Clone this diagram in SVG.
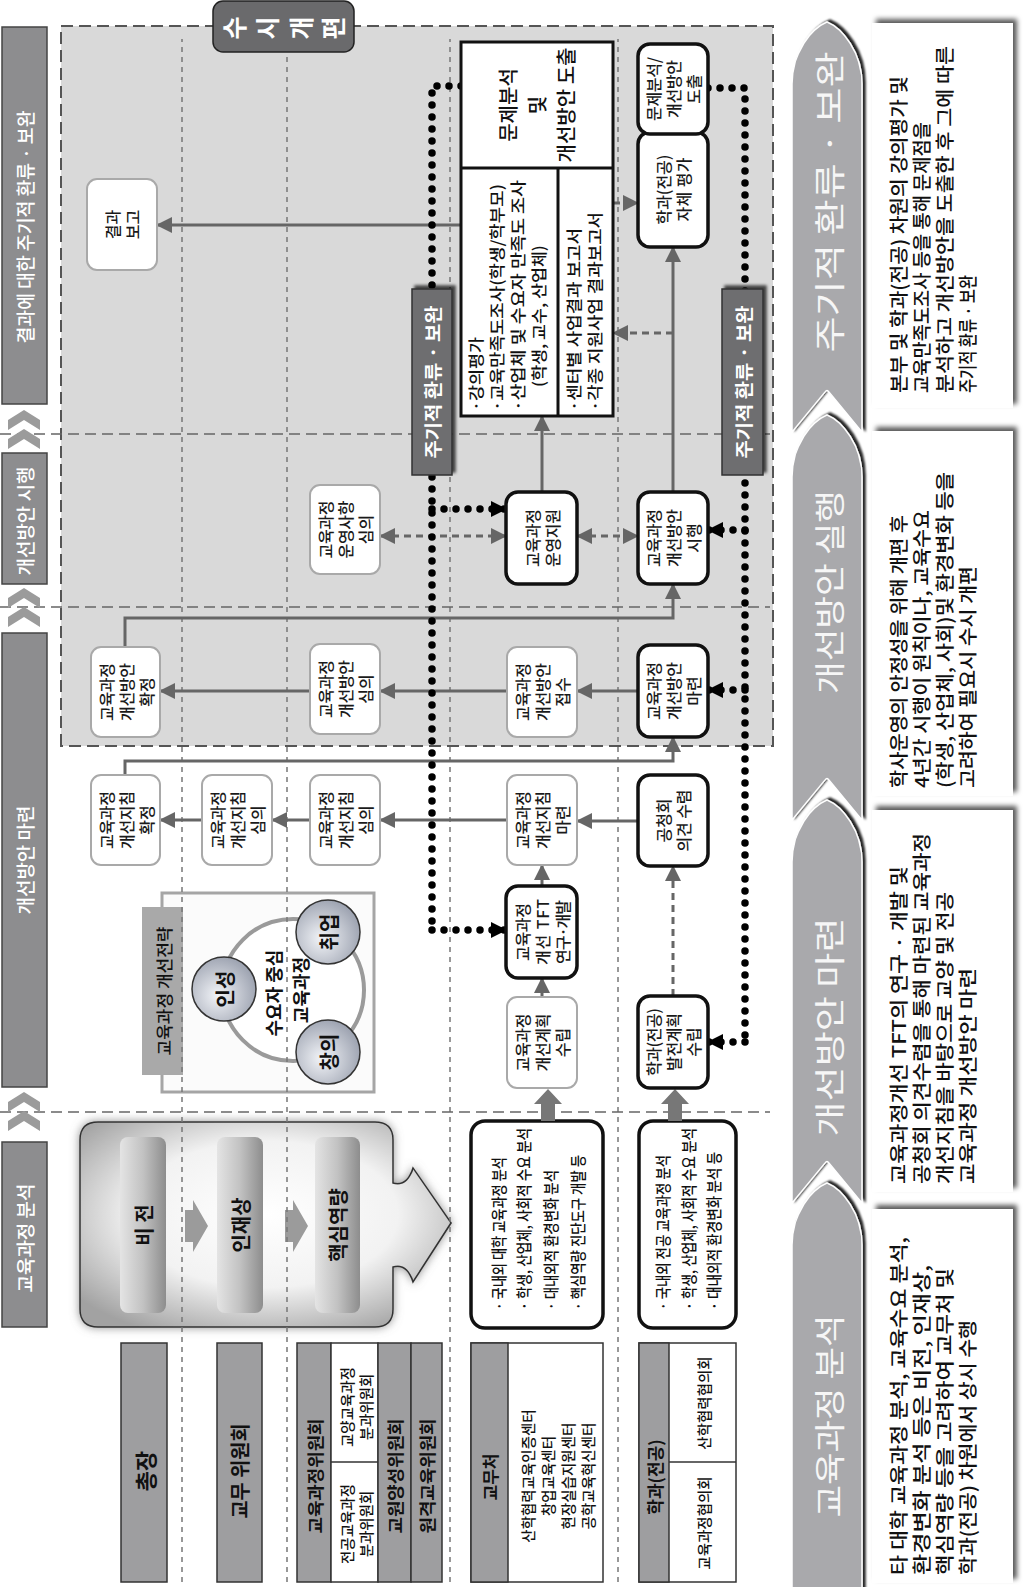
<svg xmlns="http://www.w3.org/2000/svg" width="1024" height="1587" viewBox="0 0 1024 1587">
<defs>
<style>
text{font-family:'Noto Sans CJK KR','Noto Sans',sans-serif;}
.c{text-anchor:middle;dominant-baseline:central;}
.s{text-anchor:start;dominant-baseline:central;}
.n{font-size:16px;font-weight:500;fill:#1a1a1a;}
.lb{fill:#fff;stroke:#a9a9a9;stroke-width:2;}
.bb{fill:#fff;stroke:#111;stroke-width:3.5;}
.org{fill:#9e9ea0;stroke:#333;stroke-width:1.5;}
.orgw{fill:#fff;stroke:#333;stroke-width:1.5;}
.ph{fill:#8d8d8f;stroke:#444;stroke-width:1.5;}
.pht{font-size:19px;font-weight:500;fill:#fff;}
.ob{font-size:17px;font-weight:bold;fill:#111;}
.ow{font-size:14.5px;font-weight:500;fill:#111;}
.lane{stroke:#777;stroke-width:1.5;stroke-dasharray:5 5;fill:none;}
.phl{stroke:#666;stroke-width:1.5;stroke-dasharray:11 6;fill:none;}
.arr{fill:none;stroke:#666;stroke-width:3;marker-end:url(#ga);}
.da{fill:none;stroke:#666;stroke-width:3;stroke-dasharray:7 5;marker-end:url(#ga);}
.da2{fill:none;stroke:#666;stroke-width:3;stroke-dasharray:7 5;marker-end:url(#ga);marker-start:url(#ga);}
.dot{fill:none;stroke:#000;stroke-width:7.5;stroke-linecap:round;stroke-dasharray:0 12;}
.dota{fill:none;stroke:#000;stroke-width:7.5;stroke-linecap:round;stroke-dasharray:0 12;marker-end:url(#ba);}
.ds{font-size:19px;font-weight:500;fill:#111;}
.chv{fill:#a9a9ac;stroke:#fff;stroke-width:1.5;filter:url(#csh);}
.cht{font-size:31px;fill:#f6f6f6;}
.fb{fill:#6e6e70;stroke:#333;stroke-width:1.5;filter:url(#sh);}
.fbt{font-size:18px;font-weight:bold;fill:#fff;}
.pill{fill:url(#pg);}
.pt{font-size:20px;font-weight:bold;fill:#111;}
.an{font-size:16px;font-weight:500;fill:#111;}
.bt{font-size:16px;font-weight:500;fill:#111;}
.sc{fill:url(#cg);stroke:#333;stroke-width:1.5;}
.sct{font-size:20px;font-weight:bold;fill:#111;}
.gry{fill:#9b9b9b;}
</style>
<marker id="ga" markerUnits="userSpaceOnUse" markerWidth="16" markerHeight="16" refX="15" refY="8" orient="auto-start-reverse"><path d="M0,0 L16,8 L0,16 Z" fill="#666"/></marker>
<marker id="ba" markerUnits="userSpaceOnUse" markerWidth="16" markerHeight="16" refX="15" refY="8" orient="auto"><path d="M0,0 L16,8 L0,16 Z" fill="#000"/></marker>
<filter id="sh" x="-10%" y="-10%" width="130%" height="130%"><feDropShadow dx="3" dy="3" stdDeviation="1.5" flood-color="#000" flood-opacity="0.7"/></filter>
<filter id="csh" x="-10%" y="-20%" width="130%" height="150%"><feDropShadow dx="2" dy="3" stdDeviation="1.2" flood-color="#000" flood-opacity="0.85"/></filter>
<filter id="glow" x="-10%" y="-10%" width="120%" height="120%"><feDropShadow dx="0" dy="0" stdDeviation="5" flood-color="#777" flood-opacity="0.8"/></filter>
<filter id="bsh" x="-5%" y="-10%" width="115%" height="130%"><feDropShadow dx="4" dy="4" stdDeviation="2.5" flood-color="#000" flood-opacity="0.65"/></filter>
<radialGradient id="bg" cx="0.55" cy="0.5" r="0.65"><stop offset="0" stop-color="#ffffff"/><stop offset="0.55" stop-color="#f2f2f2"/><stop offset="1" stop-color="#a2a2a2"/></radialGradient>
<linearGradient id="pg" x1="0" y1="0" x2="0" y2="1"><stop offset="0" stop-color="#e4e4e4"/><stop offset="0.5" stop-color="#c2c2c2"/><stop offset="1" stop-color="#8d8d8d"/></linearGradient>
<radialGradient id="cg" cx="0.4" cy="0.4" r="0.65"><stop offset="0" stop-color="#f2f4f8"/><stop offset="1" stop-color="#9aa0ae"/></radialGradient>
</defs>
<rect width="1024" height="1587" fill="#fff"/>
<g transform="translate(0,1587) rotate(-90)">

<g id="region">
<rect x="841" y="61" width="720" height="712" fill="#d9d9d9" stroke="#555" stroke-width="2" stroke-dasharray="12 6"/>
</g>

<g id="phase1-shape">
<path d="M278,80 H447 Q465,80 465,98 V375 Q465,393 447,393 H404 Q400,407 419,413 L364,451 L305,413 Q324,407 320,393 H278 Q260,393 260,375 V98 Q260,80 278,80 Z" fill="url(#bg)" stroke="#333" stroke-width="1.5" filter="url(#glow)"/>
<rect class="pill" x="274" y="120" width="176" height="46" rx="8"/>
<rect class="pill" x="274" y="217" width="176" height="46" rx="8"/>
<rect class="pill" x="274" y="315" width="176" height="45" rx="8"/>
<polygon class="gry" points="345,185 377,185 377,193 387,193 361,208 335,193 345,193"/>
<polygon class="gry" points="345,285 377,285 377,293 387,293 361,308 335,293 345,293"/>
<text class="c pt" x="362" y="143">비 전</text>
<text class="c pt" x="362" y="240">인재상</text>
<text class="c pt" x="362" y="337.5">핵심역량</text>
</g>

<g id="strategy">
<rect x="495" y="162" width="199" height="212" fill="#fbfbfb" stroke="#a5a5a5" stroke-width="3"/>
<rect x="512" y="142" width="168" height="41" fill="#a9a9a9"/>
<text class="c" x="596" y="163" font-size="17" font-weight="500" fill="#111">교육과정 개선전략</text>
<circle cx="597" cy="293" r="71" fill="#fff" stroke="#9a9a9a" stroke-width="4"/>
</g>

<g id="grid">
<path class="lane" d="M5,182 H1548 M5,287 H1548 M5,450 H1548 M5,618 H1548"/>
<path class="phl" d="M475,0 V770 M980,0 V770 M1153,0 V770"/>
</g>

<g id="strategy-circles">
<text class="c" x="594" y="273" font-size="18" font-weight="bold" fill="#111">수요자 중심</text>
<text class="c" x="597" y="300" font-size="18" font-weight="bold" fill="#111">교육과정</text>
<circle class="sc" cx="598" cy="224" r="32"/><text class="c sct" x="598" y="224">인성</text>
<circle class="sc" cx="655" cy="328" r="32"/><text class="c sct" x="655" y="328">취업</text>
<circle class="sc" cx="535" cy="328" r="32"/><text class="c sct" x="535" y="328">창의</text>
</g>

<g id="phase-labels">
<rect class="ph" x="260" y="2" width="185" height="45"/><text class="c pht" x="349" y="24.5">교육과정 분석</text>
<rect class="ph" x="500" y="2" width="454" height="45"/><text class="c pht" x="727" y="24.5">개선방안 마련</text>
<rect class="ph" x="1003" y="2" width="131" height="45"/><text class="c pht" x="1066" y="24.5">개선방안 시행</text>
<rect class="ph" x="1183" y="2" width="377" height="45"/><text class="c pht" x="1360" y="24.5" textLength="233" lengthAdjust="spacingAndGlyphs">결과에 대한 주기적 환류 · 보완</text>
<g class="gry">
<polygon points="456,8 466,8 476,24 466,40 456,40 466,24"/><polygon points="475,8 485,8 495,24 485,40 475,40 485,24"/>
<polygon points="960,8 970,8 980,24 970,40 960,40 970,24"/><polygon points="979,8 989,8 999,24 989,40 979,40 989,24"/>
<polygon points="1138,8 1148,8 1158,24 1148,40 1138,40 1148,24"/><polygon points="1157,8 1167,8 1177,24 1167,40 1157,40 1167,24"/>
</g>
</g>

<g id="org-president"><rect class="org" x="5" y="121" width="239" height="46"/><text class="c" x="116" y="144" font-size="22" font-weight="bold" fill="#111">총장</text></g>
<g id="org-council"><rect class="org" x="5" y="217" width="239" height="45"/><text class="c" x="116" y="239.5" font-size="20" font-weight="bold" fill="#111" textLength="95" lengthAdjust="spacingAndGlyphs">교무 위원회</text></g>
<g id="org-committees">
<rect class="org" x="5" y="297" width="239" height="34"/><text class="c ob" x="111" y="314" textLength="115" lengthAdjust="spacingAndGlyphs">교육과정위원회</text>
<rect class="orgw" x="5" y="331" width="239" height="47"/><line x1="125" y1="331" x2="125" y2="378" stroke="#333" stroke-width="1.5"/>
<text class="c ow" x="180" y="346">교양교육과정</text><text class="c ow" x="180" y="365">분과위원회</text>
<text class="c ow" x="63" y="346">전공교육과정</text><text class="c ow" x="63" y="365">분과위원회</text>
<rect class="org" x="5" y="378" width="239" height="33"/><text class="c ob" x="111" y="394.5" textLength="115" lengthAdjust="spacingAndGlyphs">교원양성위원회</text>
<rect class="org" x="5" y="411" width="239" height="31"/><text class="c ob" x="111" y="426.5" textLength="115" lengthAdjust="spacingAndGlyphs">원격교육위원회</text>
</g>
<g id="org-academic">
<rect class="orgw" x="5" y="471" width="239" height="132"/><rect class="org" x="5" y="471" width="239" height="37"/>
<text class="c ob" x="110" y="489.5" font-size="18">교무처</text>
<text class="c ow" x="111" y="527">산학협력교육인증센터</text>
<text class="c ow" x="111" y="547">창업교육센터</text>
<text class="c ow" x="111" y="567">현장실습지원센터</text>
<text class="c ow" x="111" y="587">공학교육혁신센터</text>
</g>
<g id="org-dept">
<rect class="orgw" x="5" y="639" width="239" height="97"/><rect class="org" x="5" y="639" width="239" height="30"/>
<line x1="125" y1="669" x2="125" y2="736" stroke="#333" stroke-width="1.5"/>
<text class="c ob" x="110" y="654" font-size="18">학과(전공)</text>
<text class="c ow" x="184" y="703">산학협력협의회</text>
<text class="c ow" x="64" y="703">교육과정협의회</text>
</g>

<g id="analysis-academic">
<rect class="bb" x="259" y="471" width="207" height="132" rx="14"/>
<text class="s an" x="277" y="498" textLength="153" lengthAdjust="spacingAndGlyphs">· 국내외 대학 교육과정 분석</text>
<text class="s an" x="277" y="523" textLength="182" lengthAdjust="spacingAndGlyphs">· 학생, 산업체, 사회적 수요 분석</text>
<text class="s an" x="277" y="550" textLength="140" lengthAdjust="spacingAndGlyphs">· 대내외적 환경변화 분석</text>
<text class="s an" x="277" y="577" textLength="155" lengthAdjust="spacingAndGlyphs">· 핵심역량 진단도구 개발 등</text>
</g>
<g id="analysis-dept">
<rect class="bb" x="259" y="639" width="207" height="97" rx="14"/>
<text class="s an" x="277" y="662" textLength="155" lengthAdjust="spacingAndGlyphs">· 국내외 전공 교육과정 분석</text>
<text class="s an" x="277" y="688" textLength="182" lengthAdjust="spacingAndGlyphs">· 학생, 산업체, 사회적 수요 분석</text>
<text class="s an" x="277" y="713" textLength="158" lengthAdjust="spacingAndGlyphs">· 대내외적 환경변화 분석 등</text>
</g>

<g id="connectors">
<polygon fill="#777" points="466,541 483,541 483,534 498,548 483,562 483,555 466,555"/>
<polygon fill="#777" points="466,668 483,668 483,661 498,675 483,689 483,682 466,682"/>
<path class="arr" d="M767,310 V272"/>
<path class="arr" d="M767,202 V160"/>
<path class="arr" d="M767,507 V380"/>
<path class="arr" d="M766,638 V577"/>
<path class="arr" d="M896,638 V577"/>
<path class="arr" d="M896,507 V380"/>
<path class="arr" d="M896,310 V160"/>
<path class="arr" d="M701,542 H722"/>
<path class="arr" d="M590,542 H609"/>
<path class="arr" d="M812,125 H826 V673 H850"/>
<path class="arr" d="M940,125 H969 V673 H1003"/>
<path class="arr" d="M1095,542 H1171"/>
<path class="arr" d="M1095,673 H1340"/>
<path class="arr" d="M1362,461 V157"/>
<path class="da" d="M591,673 H721"/>
<path class="da" d="M1384,613 V638"/>
<path class="da" d="M1254,673 V613"/>
<path class="da2" d="M1051,380 V506"/>
<path class="da2" d="M1051,577 V638"/>
<path class="dot" d="M1501,461 V432 H657"/>
<path class="dota" d="M657,432 V506"/>
<path class="dota" d="M1078,432 V506"/>
<path class="dot" d="M1499,708 V745 H545"/>
<path class="dota" d="M545,745 V708"/>
<path class="dota" d="M897,745 V708"/>
<path class="dota" d="M1057,745 V708"/>
</g>

<g id="n-guide-confirm"><rect class="lb" x="722" y="91" width="90" height="69" rx="10"/><text class="c n" x="767" y="105.5" textLength="58">교육과정</text><text class="c n" x="767" y="125.5" textLength="58">개선지침</text><text class="c n" x="767" y="145.5">확정</text></g>
<g id="n-guide-review1"><rect class="lb" x="722" y="202" width="90" height="70" rx="10"/><text class="c n" x="767" y="217" textLength="58">교육과정</text><text class="c n" x="767" y="237" textLength="58">개선지침</text><text class="c n" x="767" y="257">심의</text></g>
<g id="n-guide-review2"><rect class="lb" x="722" y="310" width="90" height="70" rx="10"/><text class="c n" x="767" y="325" textLength="58">교육과정</text><text class="c n" x="767" y="345" textLength="58">개선지침</text><text class="c n" x="767" y="365">심의</text></g>
<g id="n-guide-prepare"><rect class="lb" x="722" y="507" width="90" height="70" rx="10"/><text class="c n" x="767" y="522" textLength="58">교육과정</text><text class="c n" x="767" y="542" textLength="58">개선지침</text><text class="c n" x="767" y="562">마련</text></g>
<g id="n-hearing"><rect class="bb" x="721" y="638" width="91" height="70" rx="12"/><text class="c n" x="766.5" y="663">공청회</text><text class="c n" x="766.5" y="683" textLength="62">의견 수렴</text></g>
<g id="n-tft"><rect class="bb" x="609" y="506" width="92" height="71" rx="12"/><text class="c n" x="655" y="521.5" textLength="58">교육과정</text><text class="c n" x="655" y="541.5" textLength="66">개선 TFT</text><text class="c n" x="655" y="561.5" textLength="64">연구·개발</text></g>
<g id="n-plan"><rect class="lb" x="499" y="507" width="91" height="70" rx="10"/><text class="c n" x="544.5" y="522" textLength="58">교육과정</text><text class="c n" x="544.5" y="542" textLength="58">개선계획</text><text class="c n" x="544.5" y="562">수립</text></g>
<g id="n-dept-plan"><rect class="bb" x="499" y="638" width="92" height="70" rx="12"/><text class="c n" x="545" y="653" textLength="68">학과(전공)</text><text class="c n" x="545" y="673" textLength="58">발전계획</text><text class="c n" x="545" y="693">수립</text></g>
<g id="n-imp-confirm"><rect class="lb" x="850" y="91" width="90" height="69" rx="10"/><text class="c n" x="895" y="105.5" textLength="58">교육과정</text><text class="c n" x="895" y="125.5" textLength="58">개선방안</text><text class="c n" x="895" y="145.5">확정</text></g>
<g id="n-imp-review"><rect class="lb" x="853" y="310" width="90" height="70" rx="10"/><text class="c n" x="898" y="325" textLength="58">교육과정</text><text class="c n" x="898" y="345" textLength="58">개선방안</text><text class="c n" x="898" y="365">심의</text></g>
<g id="n-imp-receive"><rect class="lb" x="850" y="507" width="90" height="70" rx="10"/><text class="c n" x="895" y="522" textLength="58">교육과정</text><text class="c n" x="895" y="542" textLength="58">개선방안</text><text class="c n" x="895" y="562">접수</text></g>
<g id="n-imp-prepare"><rect class="bb" x="850" y="638" width="92" height="70" rx="12"/><text class="c n" x="896" y="653" textLength="58">교육과정</text><text class="c n" x="896" y="673" textLength="58">개선방안</text><text class="c n" x="896" y="693">마련</text></g>
<g id="n-op-review"><rect class="lb" x="1013" y="310" width="89" height="70" rx="10"/><text class="c n" x="1057.5" y="325" textLength="58">교육과정</text><text class="c n" x="1057.5" y="345" textLength="58">운영사항</text><text class="c n" x="1057.5" y="365">심의</text></g>
<g id="n-op-support"><rect class="bb" x="1003" y="506" width="92" height="71" rx="12"/><text class="c n" x="1049" y="531.5" textLength="58">교육과정</text><text class="c n" x="1049" y="551.5" textLength="58">운영지원</text></g>
<g id="n-imp-run"><rect class="bb" x="1003" y="638" width="92" height="70" rx="12"/><text class="c n" x="1049" y="653" textLength="58">교육과정</text><text class="c n" x="1049" y="673" textLength="58">개선방안</text><text class="c n" x="1049" y="693">시행</text></g>
<g id="n-report"><rect class="lb" x="1317" y="87" width="91" height="70" rx="10"/><text class="c n" x="1362.5" y="112">결과</text><text class="c n" x="1362.5" y="132">보고</text></g>
<g id="n-self-eval"><rect class="bb" x="1340" y="638" width="115" height="70" rx="12"/><text class="c n" x="1397.5" y="663" textLength="70">학과(전공)</text><text class="c n" x="1397.5" y="683" textLength="64">자체 평가</text></g>
<g id="n-dept-analysis"><rect class="bb" x="1453" y="638" width="90" height="70" rx="12"/><text class="c n" x="1498" y="653" textLength="64">문제분석/</text><text class="c n" x="1498" y="673" textLength="58">개선방안</text><text class="c n" x="1498" y="693">도출</text></g>

<g id="n-analysis-box">
<rect x="1171" y="461" width="374" height="152" fill="#fff" stroke="#111" stroke-width="3"/>
<line x1="1419" y1="461" x2="1419" y2="613" stroke="#111" stroke-width="3"/>
<line x1="1171" y1="558" x2="1419" y2="558" stroke="#111" stroke-width="3"/>
<text class="c" x="1482" y="507" font-size="20" font-weight="500" fill="#111">문제분석</text>
<text class="c" x="1482" y="536" font-size="20" font-weight="500" fill="#111">및</text>
<text class="c" x="1482" y="565" font-size="20" font-weight="500" fill="#111">개선방안 도출</text>
<text class="s bt" x="1176" y="475" textLength="74" lengthAdjust="spacingAndGlyphs">·강의평가</text>
<text class="s bt" x="1176" y="496" textLength="227" lengthAdjust="spacingAndGlyphs">·교육만족도조사(학생/학부모)</text>
<text class="s bt" x="1176" y="517" textLength="231" lengthAdjust="spacingAndGlyphs">·산업체 및 수요자 만족도 조사</text>
<text class="s bt" x="1200" y="538" textLength="142" lengthAdjust="spacingAndGlyphs">(학생, 교수, 산업체)</text>
<text class="s bt" x="1176" y="573" textLength="183" lengthAdjust="spacingAndGlyphs">·센터별 사업결과 보고서</text>
<text class="s bt" x="1176" y="594" textLength="199" lengthAdjust="spacingAndGlyphs">·각종 지원사업 결과보고서</text>
</g>

<g id="feedback-labels">
<rect class="fb" x="1112" y="412" width="186" height="40"/><text class="c fbt" x="1205" y="432" textLength="153" lengthAdjust="spacingAndGlyphs">주기적 환류 · 보완</text>
<rect class="fb" x="1112" y="722" width="186" height="41"/><text class="c fbt" x="1205" y="742.5" textLength="153" lengthAdjust="spacingAndGlyphs">주기적 환류 · 보완</text>
</g>

<g id="label-adhoc">
<rect x="1535" y="213" width="51" height="141" rx="10" fill="#6a6a6c" stroke="#222" stroke-width="1.5"/>
<text class="c" x="1559" y="233" font-size="25" font-weight="bold" fill="#fff">수</text>
<text class="c" x="1559" y="266" font-size="25" font-weight="bold" fill="#fff">시</text>
<text class="c" x="1559" y="300" font-size="25" font-weight="bold" fill="#fff">개</text>
<text class="c" x="1559" y="332" font-size="25" font-weight="bold" fill="#fff">편</text>
</g>

<g id="stage-analysis">
<path class="chv" d="M-60,792 L342,792 C374,792 398,812 404,827 C398,842 374,862 342,862 L-60,862 Z"/>
<text class="c cht" x="171" y="827" textLength="203" lengthAdjust="spacingAndGlyphs">교육과정 분석</text>
<rect x="4" y="872" width="374" height="141" fill="#fff" filter="url(#bsh)"/>
<text class="s ds" x="12" y="897" textLength="338" lengthAdjust="spacingAndGlyphs">타 대학 교육과정 분석, 교육수요 분석,</text>
<text class="s ds" x="12" y="920" textLength="310" lengthAdjust="spacingAndGlyphs">환경변화 분석 등은 비전, 인재상,</text>
<text class="s ds" x="12" y="943" textLength="307" lengthAdjust="spacingAndGlyphs">핵심역량 등을 고려하여 교무처 및</text>
<text class="s ds" x="12" y="966" textLength="255" lengthAdjust="spacingAndGlyphs">학과(전공) 차원에서 상시 수행</text>
</g>
<g id="stage-prepare">
<path class="chv" d="M384,792 L725,792 C757,792 781,812 787,827 C781,842 757,862 725,862 L384,862 L424,829 Q427,827 424,825 Z"/>
<text class="c cht" x="560" y="827" textLength="219" lengthAdjust="spacingAndGlyphs">개선방안 마련</text>
<rect x="395" y="872" width="382" height="141" fill="#fff" filter="url(#bsh)"/>
<text class="s ds" x="403" y="897" textLength="318" lengthAdjust="spacingAndGlyphs">교육과정개선 TFT의 연구 · 개발 및</text>
<text class="s ds" x="403" y="920" textLength="351" lengthAdjust="spacingAndGlyphs">공청회 의견수렴을 통해 마련된 교육과정</text>
<text class="s ds" x="403" y="943" textLength="292" lengthAdjust="spacingAndGlyphs">개선지침을 바탕으로 교양 및 전공</text>
<text class="s ds" x="403" y="966" textLength="216" lengthAdjust="spacingAndGlyphs">교육과정 개선방안 마련</text>
</g>
<g id="stage-run">
<path class="chv" d="M767,792 L1110,792 C1142,792 1166,812 1172,827 C1166,842 1142,862 1110,862 L767,862 L807,829 Q810,827 807,825 Z"/>
<text class="c cht" x="995" y="827" textLength="204" lengthAdjust="spacingAndGlyphs">개선방안 실행</text>
<rect x="791" y="872" width="365" height="141" fill="#fff" filter="url(#bsh)"/>
<text class="s ds" x="799" y="897" textLength="273" lengthAdjust="spacingAndGlyphs">학사운영의 안정성을 위해 개편 후</text>
<text class="s ds" x="799" y="920" textLength="278" lengthAdjust="spacingAndGlyphs">4년간 시행이 원칙이나, 교육수요</text>
<text class="s ds" x="799" y="943" textLength="316" lengthAdjust="spacingAndGlyphs">(학생, 산업체, 사회)및 환경변화 등을</text>
<text class="s ds" x="799" y="966" textLength="222" lengthAdjust="spacingAndGlyphs">고려하여 필요시 수시 개편</text>
</g>
<g id="stage-feedback">
<path class="chv" d="M1155,792 L1503,792 C1535,792 1559,812 1565,827 C1559,842 1535,862 1503,862 L1155,862 L1195,829 Q1198,827 1195,825 Z"/>
<text class="c cht" x="1385" y="827" textLength="301" lengthAdjust="spacingAndGlyphs">주기적 환류 · 보완</text>
<rect x="1179" y="872" width="385" height="141" fill="#fff" filter="url(#bsh)"/>
<text class="s ds" x="1194" y="897" textLength="317" lengthAdjust="spacingAndGlyphs">본부 및 학과(전공) 차원의 강의평가 및</text>
<text class="s ds" x="1194" y="920" textLength="271" lengthAdjust="spacingAndGlyphs">교육만족도조사 등을 통해 문제점을</text>
<text class="s ds" x="1194" y="943" textLength="347" lengthAdjust="spacingAndGlyphs">분석하고 개선방안을 도출한 후 그에 따른</text>
<text class="s ds" x="1194" y="966" textLength="118" lengthAdjust="spacingAndGlyphs">주기적 환류 · 보완</text>
</g>

</g>
</svg>
